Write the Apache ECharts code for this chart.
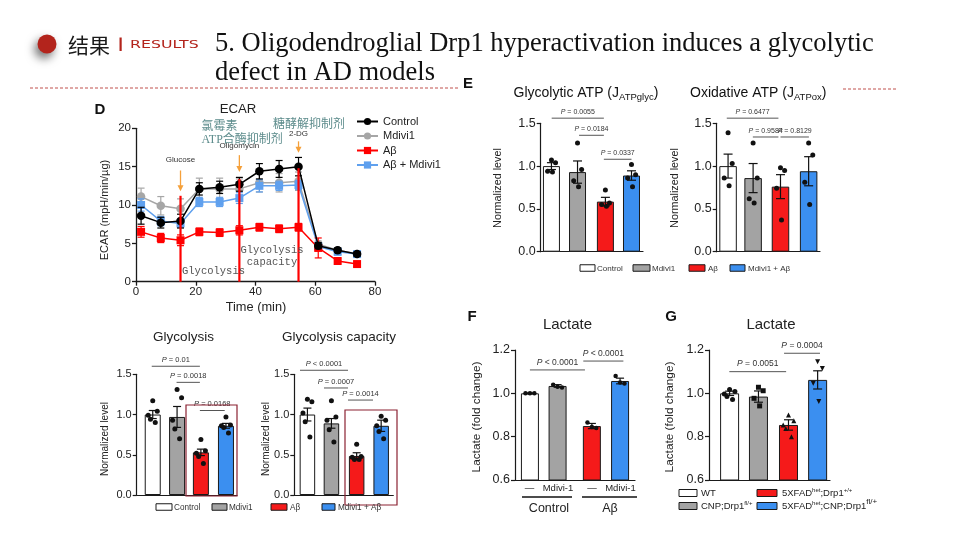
<!DOCTYPE html>
<html><head><meta charset="utf-8">
<script src="https://cdn.jsdelivr.net/npm/echarts@6/dist/echarts.min.js"></script>
<style>html,body{margin:0;padding:0;background:#fff}#c{width:960px;height:540px}</style>
</head><body><div id="c"></div>
<script>
// ---------------- DATA ----------------
// Panel D: ECAR time course
const ecarTime = [1.7, 8.3, 14.9, 21.2, 28.0, 34.6, 41.3, 47.9, 54.4, 61.0, 67.5, 74.0];
const ecarControl = [8.6, 7.7, 7.9, 12.1, 12.3, 12.7, 14.4, 14.7, 15.0, 4.7, 4.1, 3.6];
const ecarControlErr = [1.1, 0.7, 0.9, 0.8, 0.8, 0.9, 1.0, 1.1, 1.2, 0.4, 0.3, 0.3];
const ecarMdivi1 = [11.1, 9.9, 9.5, 12.1, 12.1, 12.1, 12.9, 12.9, 13.1, 4.9, 4.1, 3.6];
const ecarMdivi1Err = [1.1, 1.2, 1.3, 1.4, 1.4, 1.3, 1.2, 1.2, 1.2, 0.4, 0.3, 0.3];
const ecarAbeta = [6.5, 5.7, 5.4, 6.5, 6.4, 6.7, 7.1, 6.9, 7.1, 4.4, 2.7, 2.3];
const ecarAbetaErr = [0.7, 0.6, 0.7, 0.5, 0.5, 0.6, 0.5, 0.5, 0.5, 1.3, 0.3, 0.3];
const ecarAbetaMdivi1 = [10.0, 7.9, 7.6, 10.4, 10.4, 10.9, 12.5, 12.5, 12.6, 4.6, 3.9, 3.6];
const ecarAbetaMdivi1Err = [0.8, 0.6, 0.5, 0.6, 0.6, 0.7, 0.8, 0.6, 0.6, 0.5, 0.4, 0.3];
const injectionTime = [14.9, 34.6, 54.4];
const injectionName = ['Glucose', 'Oligomycin', '2-DG'];

const cellGroups = ['Control', 'Mdivi1', 'Aβ', 'Mdivi1 + Aβ'];
// Glycolysis
const glycolysisMean = [1.00, 0.97, 0.53, 0.86];
const glycolysisSem = [0.05, 0.13, 0.04, 0.03];
const glycolysisDots = [[1.17, 1.04, 0.99, 0.94, 0.90], [1.31, 1.21, 0.93, 0.82, 0.70], [0.69, 0.55, 0.52, 0.48, 0.39], [0.97, 0.87, 0.86, 0.84, 0.77]];
const glycolysisP = [[0.6, 2.52, 1.6, '= 0.01'], [1.59, 2.52, 1.4, '= 0.0018'], [2.52, 3.51, 1.05, '= 0.0168']];
// Glycolysis capacity
const capacityMean = [1.00, 0.89, 0.485, 0.86];
const capacitySem = [0.08, 0.06, 0.04, 0.07];
const capacityDots = [[1.19, 1.16, 1.02, 0.91, 0.72], [1.17, 0.97, 0.93, 0.81, 0.66], [0.63, 0.48, 0.47, 0.44, 0.44], [0.98, 0.93, 0.86, 0.79, 0.70]];
const capacityP = [[0.23, 2.17, 1.55, '< 0.0001'], [1.2, 2.17, 1.33, '= 0.0007'], [2.17, 3.18, 1.18, '= 0.0014']];
// Glycolytic ATP
const glycAtpMean = [1.00, 0.93, 0.585, 0.89];
const glycAtpSem = [0.04, 0.13, 0.05, 0.055];
const glycAtpDots = [[1.07, 1.04, 0.94, 0.93], [1.27, 0.96, 0.83, 0.76], [0.72, 0.57, 0.55, 0.53], [1.02, 0.90, 0.86, 0.76]];
const glycAtpP = [[0.43, 2.47, 1.56, '= 0.0055'], [1.5, 2.47, 1.36, '= 0.0184'], [2.47, 3.55, 1.08, '= 0.0337']];
// Oxidative ATP
const oxAtpMean = [1.00, 0.86, 0.76, 0.94];
const oxAtpSem = [0.14, 0.17, 0.14, 0.17];
const oxAtpDots = [[1.39, 1.03, 0.86, 0.77], [1.27, 0.86, 0.62, 0.57], [0.98, 0.95, 0.74, 0.37], [1.27, 1.13, 0.81, 0.55]];
const oxAtpP = [[0.39, 2.39, 1.56, '= 0.6477'], [1.4, 2.39, 1.34, '= 0.9584'], [2.47, 3.57, 1.34, '= 0.8129']];
// F Lactate
const lactateFMean = [1.000, 1.034, 0.849, 1.057];
const lactateFSem = [0.002, 0.006, 0.012, 0.013];
const lactateFDots = [[1.0, 1.0, 1.0], [1.04, 1.03, 1.027], [0.865, 0.845, 0.84], [1.08, 1.05, 1.045]];
const lactateFP = [[0.54, 2.53, 1.108, '< 0.0001'], [2.47, 3.92, 1.149, '< 0.0001']];
// G Lactate
const mouseGroups = ['WT', 'CNP;Drp1fl/+', '5XFADhet;Drp1+/+', '5XFADhet;CNP;Drp1fl/+'];
const lactateGMean = [1.000, 0.985, 0.854, 1.062];
const lactateGSem = [0.010, 0.026, 0.024, 0.042];
const lactateGDots = [[1.018, 1.008, 0.997, 0.985, 0.972], [1.028, 1.012, 0.977, 0.942], [0.90, 0.874, 0.854, 0.838, 0.80], [1.146, 1.115, 1.046, 0.962]];
const lactateGP = [[0.69, 2.62, 1.10, '= 0.0051'], [2.55, 3.77, 1.185, '= 0.0004']];

// ---------------- BUILD ----------------
const FF = '"Liberation Sans", Arial, sans-serif';
const AX = '#1a1a1a';
const BAR_COLORS = ['#ffffff', '#a3a3a3', '#f51a1a', '#3b8ff0'];
const grids = [], xAxes = [], yAxes = [], series = [], G = [];
const mc = document.createElement('canvas').getContext('2d');
function tw(t, fs, ff) { mc.font = fs + 'px ' + ff; return mc.measureText(t).width; }
function runs(x, y, parts, fill, ff, anchor) {
  let total = 0; parts.forEach(p => total += tw(p[0], p[1], ff));
  let cx = anchor === 'center' ? x - total / 2 : x;
  parts.forEach(p => {
    G.push({ type: 'text', x: cx, y: y + p[2], z: 10, style: { text: p[0], fontSize: p[1], fontFamily: ff, fill: fill, align: 'left', verticalAlign: 'middle' } });
    cx += tw(p[0], p[1], ff);
  });
}
function text(x, y, t, fs, opt) {
  opt = opt || {};
  G.push(Object.assign({ type: 'text', x: x, y: y, z: 10, rotation: opt.rotation || 0, scaleX: opt.scaleX || 1,
    style: { text: t, fontSize: fs, fontFamily: opt.ff || FF, fill: opt.fill || '#222', align: opt.align || 'left', verticalAlign: 'middle', fontWeight: opt.bold ? 'bold' : 'normal' } }));
}
function axisLineStyle(w) { return { show: true, onZero: false, lineStyle: { color: AX, width: w || 1.2 } }; }

function errRender(capHalf, lw) {
  return function (params, api) {
    const x = api.value(0), m = api.value(1), e = api.value(2);
    const p1 = api.coord([x, m + e]), p2 = api.coord([x, m - e]);
    const st = { stroke: api.visual('color'), lineWidth: lw };
    return { type: 'group', children: [
      { type: 'line', shape: { x1: p1[0], y1: p1[1], x2: p2[0], y2: p2[1] }, style: st },
      { type: 'line', shape: { x1: p1[0] - capHalf, y1: p1[1], x2: p1[0] + capHalf, y2: p1[1] }, style: st },
      { type: 'line', shape: { x1: p2[0] - capHalf, y1: p2[1], x2: p2[0] + capHalf, y2: p2[1] }, style: st }
    ] };
  };
}

// ---- ECAR panel ----
(function () {
  const gi = grids.length;
  grids.push({ left: 136, top: 128.3, width: 239, height: 153.4, outerBoundsMode: 'none' });
  xAxes.push({ gridIndex: gi, type: 'value', min: 0, max: 80, interval: 20, axisLine: axisLineStyle(1.3),
    axisTick: { show: true, length: 4, lineStyle: { color: AX, width: 1.3 } },
    axisLabel: { fontSize: 11.5, color: '#222', margin: 4, fontFamily: FF }, splitLine: { show: false } });
  yAxes.push({ gridIndex: gi, type: 'value', min: 0, max: 20, interval: 5, axisLine: axisLineStyle(1.3),
    axisTick: { show: true, length: 4, lineStyle: { color: AX, width: 1.3 } },
    axisLabel: { fontSize: 11.5, color: '#222', margin: 5, fontFamily: FF }, splitLine: { show: false } });
  const defs = [
    { name: 'Mdivi1', vals: ecarMdivi1, err: ecarMdivi1Err, color: '#a6a6a6', symbol: 'circle', size: 8.5 },
    { name: 'Aβ + Mdivi1', vals: ecarAbetaMdivi1, err: ecarAbetaMdivi1Err, color: '#5fa0ee', symbol: 'rect', size: 8 },
    { name: 'Aβ', vals: ecarAbeta, err: ecarAbetaErr, color: '#ff0000', symbol: 'rect', size: 8 },
    { name: 'Control', vals: ecarControl, err: ecarControlErr, color: '#000000', symbol: 'circle', size: 8.5 }
  ];
  defs.forEach((d, k) => {
    series.push({ type: 'custom', xAxisIndex: gi, yAxisIndex: gi, z: 3 + k, silent: true,
      itemStyle: { color: d.color }, renderItem: errRender(3.5, 1.2), encode: { x: 0, y: 1 },
      data: ecarTime.map((t, i) => [t, d.vals[i], d.err[i]]) });
    series.push({ type: 'line', name: d.name, xAxisIndex: gi, yAxisIndex: gi, z: 3 + k,
      symbol: d.symbol, symbolSize: d.size, showAllSymbol: true,
      itemStyle: { color: d.color }, lineStyle: { color: d.color, width: 1.5 },
      data: ecarTime.map((t, i) => [t, d.vals[i]]) });
  });
  const redTop = [11.2, 13.4, 14.8], arrowFrom = [14.5, 16.5, 18.3], arrowTo = [11.8, 14.3, 16.8], labelAt = [15.9, 17.7, 19.25];
  series.push({ type: 'custom', xAxisIndex: gi, yAxisIndex: gi, z: 9, silent: true, clip: false, encode: { x: 0, y: 1 },
    data: injectionTime.map((t, i) => [t, redTop[i]]),
    renderItem: function (params, api) {
      const i = params.dataIndex, t = injectionTime[i];
      const b = api.coord([t, 0]), r = api.coord([t, redTop[i]]), a1 = api.coord([t, arrowFrom[i]]), a2 = api.coord([t, arrowTo[i]]), l = api.coord([t, labelAt[i]]);
      return { type: 'group', children: [
        { type: 'line', shape: { x1: b[0], y1: b[1], x2: r[0], y2: r[1] }, style: { stroke: '#ff0000', lineWidth: 2.2 } },
        { type: 'line', shape: { x1: a1[0], y1: a1[1], x2: a2[0], y2: a2[1] - 5 }, style: { stroke: '#f5a03a', lineWidth: 1.3 } },
        { type: 'polygon', shape: { points: [[a2[0] - 3, a2[1] - 6], [a2[0] + 3, a2[1] - 6], [a2[0], a2[1]]] }, style: { fill: '#f5a03a' } },
        { type: 'text', x: l[0], y: l[1], style: { text: injectionName[i], fontSize: 8, fontFamily: FF, fill: '#333', align: 'center', verticalAlign: 'middle' } }
      ] };
    } });
})();

// ---- bar panels ----
function offs(n) {
  if (n >= 5) return [0, 0.18, -0.18, -0.09, 0.1];
  if (n === 4) return [0, 0.16, -0.15, 0.04];
  return [-0.16, 0, 0.16];
}
function barPanel(c) {
  const gi = grids.length;
  grids.push(Object.assign({ outerBoundsMode: 'none' }, c.grid));
  xAxes.push({ gridIndex: gi, type: 'value', min: 0, max: c.xmax, axisLine: axisLineStyle(1.2), axisTick: { show: false }, axisLabel: { show: false }, splitLine: { show: false } });
  yAxes.push({ gridIndex: gi, type: 'value', min: c.ymin, max: c.ymax, interval: c.step, axisLine: axisLineStyle(1.2),
    axisTick: { show: true, length: 4, lineStyle: { color: AX, width: 1.2 } },
    axisLabel: { fontSize: c.tickFont, color: '#222', margin: 5, fontFamily: FF, formatter: v => v.toFixed(1) }, splitLine: { show: false } });
  series.push({ type: 'bar', xAxisIndex: gi, yAxisIndex: gi, barWidth: c.barW, z: 2, clip: true, silent: true,
    itemStyle: { borderColor: '#1a1a1a', borderWidth: 1 },
    data: c.means.map((m, i) => ({ name: c.groups[i], value: [c.pos[i], m], itemStyle: { color: BAR_COLORS[i] } })) });
  series.push({ type: 'custom', xAxisIndex: gi, yAxisIndex: gi, z: 4, silent: true, itemStyle: { color: '#111' },
    renderItem: errRender(c.cap, 1.2), encode: { x: 0, y: 1 },
    data: c.means.map((m, i) => [c.pos[i], m, c.sems[i]]) });
  const shapes = c.shapes || ['circle', 'circle', 'circle', 'circle'];
  const rots = c.rots || [0, 0, 0, 0];
  const dotData = [];
  c.dots.forEach((arr, i) => {
    const o = offs(arr.length);
    arr.forEach((v, j) => dotData.push({ value: [c.pos[i] + o[j] * (c.spread || 1), v], symbol: shapes[i], symbolRotate: rots[i] }));
  });
  series.push({ type: 'scatter', xAxisIndex: gi, yAxisIndex: gi, z: 5, silent: true, symbolSize: c.dotSize,
    itemStyle: { color: '#111', opacity: 1 }, data: dotData });
  const br = c.brackets;
  series.push({ type: 'custom', xAxisIndex: gi, yAxisIndex: gi, z: 6, silent: true, clip: false, encode: { x: 0, y: 1 },
    data: br.map(b => [b[0], b[2]]),
    renderItem: function (params, api) {
      const b = br[params.dataIndex];
      const p1 = api.coord([b[0], b[2]]), p2 = api.coord([b[1], b[2]]);
      return { type: 'group', children: [
        { type: 'line', shape: { x1: p1[0], y1: p1[1], x2: p2[0], y2: p2[1] }, style: { stroke: '#555', lineWidth: 1 } },
        { type: 'text', x: (p1[0] + p2[0]) / 2, y: p1[1] - c.pGap, style: { text: '{i|P} ' + b[3], rich: { i: { fontStyle: 'italic', fontSize: c.pFont, fontFamily: FF, fill: '#333' } }, fontSize: c.pFont, fontFamily: FF, fill: '#333', align: 'center', verticalAlign: 'middle' } }
      ] };
    } });
}

barPanel({ grid: { left: 136.7, top: 374.3, width: 100.3, height: 120.7 }, xmax: 4, ymin: 0, ymax: 1.5, step: 0.5,
  pos: [0.64, 1.61, 2.56, 3.56], barW: 16, groups: cellGroups, means: glycolysisMean, sems: glycolysisSem, dots: glycolysisDots,
  brackets: glycolysisP, pFont: 7.5, pGap: 6.5, tickFont: 11, cap: 4, dotSize: 5 });
barPanel({ grid: { left: 294.3, top: 374.3, width: 99, height: 120.7 }, xmax: 4, ymin: 0, ymax: 1.5, step: 0.5,
  pos: [0.53, 1.5, 2.52, 3.51], barW: 15.5, groups: cellGroups, means: capacityMean, sems: capacitySem, dots: capacityDots,
  brackets: capacityP, pFont: 7.5, pGap: 6.5, tickFont: 11, cap: 4, dotSize: 5 });
barPanel({ grid: { left: 540.7, top: 123.3, width: 102.3, height: 128.4 }, xmax: 4, ymin: 0, ymax: 1.5, step: 0.5,
  pos: [0.42, 1.44, 2.53, 3.55], barW: 17, groups: cellGroups, means: glycAtpMean, sems: glycAtpSem, dots: glycAtpDots,
  brackets: glycAtpP, pFont: 7, pGap: 6, tickFont: 12.5, cap: 4.5, dotSize: 5 });
barPanel({ grid: { left: 716.7, top: 123.3, width: 103.3, height: 128.4 }, xmax: 4, ymin: 0, ymax: 1.5, step: 0.5,
  pos: [0.44, 1.41, 2.47, 3.56], barW: 17.5, groups: cellGroups, means: oxAtpMean, sems: oxAtpSem, dots: oxAtpDots,
  brackets: oxAtpP, pFont: 7, pGap: 6, tickFont: 12.5, cap: 4.5, dotSize: 5 });
barPanel({ grid: { left: 515, top: 350, width: 120, height: 130 }, xmax: 4.34, ymin: 0.6, ymax: 1.2, step: 0.2,
  pos: [0.54, 1.54, 2.78, 3.8], barW: 18, groups: cellGroups, means: lactateFMean, sems: lactateFSem, dots: lactateFDots,
  brackets: lactateFP, pFont: 8.5, pGap: 7, tickFont: 12.5, cap: 4, dotSize: 4.5 });
barPanel({ grid: { left: 709, top: 350, width: 121, height: 130 }, xmax: 4.11, ymin: 0.6, ymax: 1.2, step: 0.2,
  pos: [0.7, 1.68, 2.7, 3.69], barW: 19, groups: mouseGroups, means: lactateGMean, sems: lactateGSem, dots: lactateGDots,
  brackets: lactateGP, pFont: 8.5, pGap: 8, tickFont: 12.5, cap: 4.5, dotSize: 5,
  shapes: ['circle', 'rect', 'triangle', 'triangle'], rots: [0, 0, 0, 180] });

// ---------------- TEXT / DECORATION ----------------
// header
G.push({ type: 'circle', shape: { cx: 47, cy: 44, r: 9.5 }, z: 10, style: { fill: '#b3241c', shadowBlur: 10, shadowColor: 'rgba(0,0,0,0.55)', shadowOffsetX: -3, shadowOffsetY: 5 } });
text(68, 45, '结果', 21, { ff: '"Noto Sans CJK SC", sans-serif', fill: '#1a1a1a' });
G.push({ type: 'rect', shape: { x: 119.5, y: 37.5, width: 2.2, height: 13.5 }, z: 10, style: { fill: '#b3241c' } });
text(130, 45, 'RESULTS', 10.5, { ff: '"DejaVu Sans", sans-serif', fill: '#b3241c', scaleX: 1.5 });
text(215, 44, '5. Oligodendroglial Drp1 hyperactivation induces a glycolytic', 26.5, { ff: '"Liberation Serif", serif', fill: '#111' });
text(215, 73, 'defect in AD models', 26.5, { ff: '"Liberation Serif", serif', fill: '#111' });
G.push({ type: 'line', z: 10, shape: { x1: 30, y1: 88, x2: 458, y2: 88 }, style: { stroke: '#c0504d', lineWidth: 1, lineDash: [3, 2] } });
G.push({ type: 'line', z: 10, shape: { x1: 843, y1: 89, x2: 897, y2: 89 }, style: { stroke: '#c0504d', lineWidth: 1, lineDash: [3, 2] } });

// panel letters
text(100, 110, 'D', 15, { bold: true, align: 'center', fill: '#111' });
text(468, 84, 'E', 15, { bold: true, align: 'center', fill: '#111' });
text(472, 317, 'F', 15, { bold: true, align: 'center', fill: '#111' });
text(671, 317, 'G', 15, { bold: true, align: 'center', fill: '#111' });

// ECAR texts
text(238, 109, 'ECAR', 13.2, { align: 'center' });
text(256, 307, 'Time (min)', 12.8, { align: 'center' });
text(105, 210, 'ECAR (mpH/min/µg)', 11, { align: 'center', rotation: Math.PI / 2 });
const annFF = '"Liberation Serif", "Noto Sans CJK SC", serif';
text(201.5, 127, '氯霉素', 12, { ff: annFF, fill: '#5d8c8c' });
text(201.5, 139.5, 'ATP合酶抑制剂', 12, { ff: annFF, fill: '#5d8c8c' });
text(273, 125, '糖酵解抑制剂', 12, { ff: annFF, fill: '#5d8c8c' });
const monoFF = '"Liberation Mono", monospace';
text(272, 250, 'Glycolysis', 10.5, { ff: monoFF, fill: '#555', align: 'center' });
text(272, 262, 'capacity', 10.5, { ff: monoFF, fill: '#555', align: 'center' });
text(182, 271, 'Glycolysis', 10.5, { ff: monoFF, fill: '#555' });

// bottom-left titles and labels
text(183.5, 337, 'Glycolysis', 13.5, { align: 'center' });
text(339, 337, 'Glycolysis capacity', 13.5, { align: 'center' });
text(105, 439, 'Normalized level', 10, { align: 'center', rotation: Math.PI / 2 });
text(266, 439, 'Normalized level', 10, { align: 'center', rotation: Math.PI / 2 });
G.push({ type: 'rect', z: 10, shape: { x: 186, y: 405, width: 51, height: 91 }, style: { fill: 'none', stroke: '#8b2232', lineWidth: 1.2 } });
G.push({ type: 'rect', z: 10, shape: { x: 345, y: 410, width: 52, height: 95 }, style: { fill: 'none', stroke: '#8b2232', lineWidth: 1.2 } });
function legendBox(x, y, w, h, color) {
  G.push({ type: 'rect', z: 10, shape: { x: x, y: y - h / 2, width: w, height: h }, style: { fill: color, stroke: '#1a1a1a', lineWidth: 1 } });
}
[[156, 16, 174], [212, 15, 229], [271, 16, 290], [322, 13, 338]].forEach((l, i) => {
  legendBox(l[0], 507, l[1], 6.5, BAR_COLORS[i]);
  text(l[2], 507.5, cellGroups[i], 8.2, { fill: '#333' });
});

// E titles
runs(513.5, 93, [['Glycolytic ATP (J', 14, 0], ['ATPglyc', 9.5, 4], [')', 14, 0]], '#111', FF, 'left');
runs(690, 93, [['Oxidative ATP (J', 14, 0], ['ATPox', 9.5, 4], [')', 14, 0]], '#111', FF, 'left');
text(498, 188, 'Normalized level', 10.8, { align: 'center', rotation: Math.PI / 2 });
text(675, 188, 'Normalized level', 10.8, { align: 'center', rotation: Math.PI / 2 });
[[580, 15, 597], [633, 17, 652], [689, 16, 708], [730, 15, 748]].forEach((l, i) => {
  legendBox(l[0], 268, l[1], 6.5, BAR_COLORS[i]);
  text(l[2], 268.5, cellGroups[i], 8, { fill: '#333' });
});

// F texts
text(567.5, 325, 'Lactate', 15, { align: 'center' });
text(477, 417, 'Lactate (fold change)', 11.8, { align: 'center', rotation: Math.PI / 2 });
text(529.5, 488, '—', 9.5, { align: 'center' });
text(558, 488, 'Mdivi-1', 9.5, { align: 'center' });
text(592, 488, '—', 9.5, { align: 'center' });
text(620.5, 488, 'Mdivi-1', 9.5, { align: 'center' });
G.push({ type: 'line', z: 10, shape: { x1: 522, y1: 497, x2: 572, y2: 497 }, style: { stroke: '#111', lineWidth: 1.5 } });
G.push({ type: 'line', z: 10, shape: { x1: 582, y1: 497, x2: 637, y2: 497 }, style: { stroke: '#111', lineWidth: 1.5 } });
text(549, 509, 'Control', 12.5, { align: 'center' });
text(610, 509, 'Aβ', 12.5, { align: 'center' });

// G texts
text(771, 325, 'Lactate', 15, { align: 'center' });
text(670, 417, 'Lactate (fold change)', 11.8, { align: 'center', rotation: Math.PI / 2 });
legendBox(679, 493, 18, 7, BAR_COLORS[0]);
runs(701, 493, [['WT', 9.5, 0]], '#222', FF, 'left');
legendBox(679, 506, 18, 7, BAR_COLORS[1]);
runs(701, 506, [['CNP;Drp1', 9.5, 0], ['fl/+', 6, -3]], '#222', FF, 'left');
legendBox(757, 493, 20, 7, BAR_COLORS[2]);
runs(782, 493, [['5XFAD', 9.5, 0], ['het', 6, -3], [';Drp1', 9.5, 0], ['+/+', 6, -3]], '#222', FF, 'left');
legendBox(757, 506, 20, 7, BAR_COLORS[3]);
runs(782, 506, [['5XFAD', 9.5, 0], ['het', 6, -3], [';CNP;Drp1', 9.5, 0], ['fl/+', 8, -4]], '#222', FF, 'left');

const chart = echarts.init(document.getElementById('c'), null, { renderer: 'canvas' });
chart.setOption({
  backgroundColor: '#ffffff',
  animation: false,
  textStyle: { fontFamily: FF },
  grid: grids, xAxis: xAxes, yAxis: yAxes, series: series,
  legend: [{ data: ['Control', 'Mdivi1', 'Aβ', 'Aβ + Mdivi1'], orient: 'vertical', left: 356, top: 116, padding: 0,
    itemWidth: 21, itemHeight: 9, itemGap: 3.5, selectedMode: false,
    textStyle: { fontSize: 11, color: '#222', fontFamily: FF } }],
  graphic: { elements: G }
});
</script>
</body></html>
